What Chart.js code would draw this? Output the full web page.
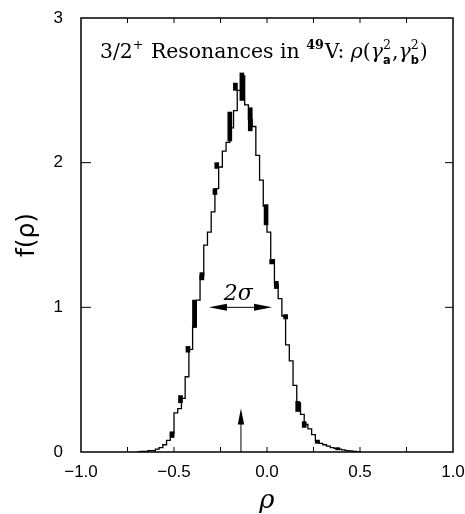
<!DOCTYPE html>
<html lang="en">
<head>
<meta charset="UTF-8">
<title>f(rho) 49V</title>
<script src="https://cdn.jsdelivr.net/npm/chart.js"></script>
<style>
  html, body { margin: 0; padding: 0; background: #fff; }
  #wrap { width: 465px; height: 514px; }
</style>
</head>
<body>
<div id="wrap"><canvas id="rhoChart"></canvas></div>
<script>
// histogram: left bin edges (rho) and heights f(rho)
const rhoEdges = [
  -0.70, -0.68, -0.66, -0.64, -0.62, -0.60, -0.58, -0.56, -0.54, -0.52,
  -0.50, -0.48, -0.46, -0.44, -0.42, -0.40, -0.38, -0.36, -0.34, -0.32,
  -0.30, -0.28, -0.26, -0.24, -0.22, -0.20, -0.18, -0.16, -0.14, -0.12,
  -0.10, -0.08, -0.06, -0.04, -0.02, 0.00, 0.02, 0.04, 0.06, 0.08,
  0.10, 0.12, 0.14, 0.16, 0.18, 0.20, 0.22, 0.24, 0.26, 0.28,
  0.30, 0.32, 0.34, 0.36, 0.38, 0.40, 0.42, 0.44, 0.46, 0.48, 0.50
];
const fValues = [
  0.000, 0.005, 0.005, 0.010, 0.010, 0.020, 0.030, 0.050, 0.080, 0.130,
  0.270, 0.300, 0.370, 0.520, 0.710, 0.870, 1.050, 1.220, 1.430, 1.520,
  1.660, 1.820, 1.970, 2.080, 2.140, 2.240, 2.360, 2.500, 2.600, 2.400,
  2.300, 2.250, 2.050, 1.880, 1.700, 1.520, 1.330, 1.160, 1.060, 0.940,
  0.740, 0.630, 0.460, 0.340, 0.260, 0.190, 0.160, 0.120, 0.080, 0.060,
  0.050, 0.040, 0.030, 0.025, 0.020, 0.015, 0.010, 0.008, 0.005, 0.003, 0.000
];

// error bars (rho position, lower and upper f)
const errRho  = [-0.51, -0.465, -0.425, -0.39, -0.35, -0.28, -0.27, -0.20, -0.17, -0.135, -0.09, -0.005, 0.025, 0.05, 0.10, 0.165, 0.20, 0.27, 0.38];
const errLow  = [0.10, 0.34, 0.69, 0.86, 1.19, 1.78, 1.96, 2.15, 2.50, 2.43, 2.22, 1.57, 1.30, 1.13, 0.92, 0.28, 0.17, 0.06, 0.015];
const errHigh = [0.14, 0.39, 0.73, 1.05, 1.24, 1.82, 2.00, 2.35, 2.55, 2.62, 2.38, 1.71, 1.33, 1.18, 0.95, 0.35, 0.21, 0.08, 0.030];

const xTicks = [-1, -0.5, 0, 0.5, 1];
const xInnerTicks = [-0.75, -0.5, -0.25, 0, 0.25, 0.5, 0.75];
const yTicks = [0, 1, 2, 3];
const yInnerTicks = [1, 2];

// annotations
const centroidRho = -0.14, centroidTop = 0.30;
const sigmaFrom = -0.312, sigmaTo = 0.027, sigmaLevel = 1.0;
const sigmaLabelRho = -0.155, sigmaLabelF = 1.05;

const histPoints = rhoEdges.map((r, i) => ({ x: r, y: fValues[i] }));
const errPoints = errRho.map((r, i) => ({ x: r, y: [errLow[i], errHigh[i]] }));

const titleParts = [
  { t: '3/2' },
  { sup: '+' },
  { t: ' Resonances in ' },
  { sup: '49', bold: true },
  { t: 'V: ' },
  { t: 'ρ', it: true },
  { t: '(' },
  { t: 'γ', it: true },
  { sup: '2', sub: 'a' },
  { t: ',' },
  { t: 'γ', it: true },
  { sup: '2', sub: 'b' },
  { t: ')' }
];

function fontFor(size, it, bold) {
  return (it ? 'italic ' : '') + (bold ? 'bold ' : '') + size + 'px "DejaVu Serif"';
}

function partWidth(ctx, p, size) {
  const small = size * 0.62;
  if (p.t !== undefined) {
    ctx.font = fontFor(size, p.it, false);
    return ctx.measureText(p.t).width;
  }
  ctx.font = fontFor(small, false, p.bold);
  let w = p.sup ? ctx.measureText(p.sup).width : 0;
  if (p.sub) {
    ctx.font = 'bold ' + (small * 0.9) + 'px "DejaVu Sans"';
    w = Math.max(w, ctx.measureText(p.sub).width);
  }
  return w + 1;
}

function arrowHead(ctx, x, y, dx, dy, len, half) {
  // tip at (x,y), pointing in direction (dx,dy)
  const bx = x - dx * len, by = y - dy * len;
  ctx.beginPath();
  ctx.moveTo(x, y);
  ctx.lineTo(bx - dy * half, by + dx * half);
  ctx.lineTo(bx + dy * half, by - dx * half);
  ctx.closePath();
  ctx.fill();
}

const framePlugin = {
  id: 'framePlugin',
  afterDraw(chart) {
    const { ctx, chartArea: a, scales } = chart;
    const xs = scales.x, ys = scales.y;
    ctx.save();
    ctx.strokeStyle = '#000';
    ctx.fillStyle = '#000';

    // frame
    ctx.lineWidth = 1.5;
    ctx.strokeRect(a.left, a.top, a.right - a.left, a.bottom - a.top);

    // inward ticks
    ctx.lineWidth = 1;
    ctx.beginPath();
    xInnerTicks.forEach(v => {
      const px = xs.getPixelForValue(v);
      ctx.moveTo(px, a.bottom); ctx.lineTo(px, a.bottom - 5);
      ctx.moveTo(px, a.top); ctx.lineTo(px, a.top + 5);
    });
    yInnerTicks.forEach(v => {
      const py = ys.getPixelForValue(v);
      ctx.moveTo(a.left, py); ctx.lineTo(a.left + 10, py);
      ctx.moveTo(a.right, py); ctx.lineTo(a.right - 8, py);
    });
    ctx.stroke();

    // centroid arrow
    const cx = xs.getPixelForValue(centroidRho);
    const cTop = ys.getPixelForValue(centroidTop);
    ctx.beginPath();
    ctx.moveTo(cx, a.bottom); ctx.lineTo(cx, cTop + 10);
    ctx.stroke();
    arrowHead(ctx, cx, cTop, 0, -1, 16, 3.2);

    // 2 sigma double arrow
    const sy = ys.getPixelForValue(sigmaLevel);
    const sx1 = xs.getPixelForValue(sigmaFrom), sx2 = xs.getPixelForValue(sigmaTo);
    ctx.beginPath();
    ctx.moveTo(sx1 + 10, sy); ctx.lineTo(sx2 - 10, sy);
    ctx.stroke();
    arrowHead(ctx, sx1, sy, -1, 0, 18, 3.5);
    arrowHead(ctx, sx2, sy, 1, 0, 18, 3.5);

    ctx.font = 'italic 22px "DejaVu Serif"';
    ctx.textAlign = 'center';
    ctx.textBaseline = 'alphabetic';
    ctx.fillText('2σ', xs.getPixelForValue(sigmaLabelRho), ys.getPixelForValue(sigmaLabelF));

    // in-plot title
    const target = 328;
    let size = 20;
    const total = titleParts.reduce((s, p) => s + partWidth(ctx, p, size), 0);
    size = size * target / total;
    const small = size * 0.62;
    let x = a.left + 19;
    const base = a.top + 40;
    ctx.textAlign = 'left';
    titleParts.forEach(p => {
      const w = partWidth(ctx, p, size);
      if (p.t !== undefined) {
        ctx.font = fontFor(size, p.it, false);
        ctx.fillText(p.t, x, base);
      } else {
        ctx.font = fontFor(small, false, p.bold);
        if (p.sup) ctx.fillText(p.sup, x, base - size * 0.45);
        if (p.sub) {
          ctx.font = 'bold ' + (small * 0.9) + 'px "DejaVu Sans"';
          ctx.fillText(p.sub, x, base + size * 0.3);
        }
      }
      x += w;
    });
    ctx.restore();
  }
};

new Chart(document.getElementById('rhoChart'), {
  type: 'line',
  data: {
    datasets: [
      {
        type: 'line',
        data: histPoints,
        stepped: true,
        borderColor: '#000',
        borderWidth: 1.3,
        pointRadius: 0,
        fill: false
      },
      {
        type: 'bar',
        data: errPoints,
        backgroundColor: '#000',
        barThickness: 4
      }
    ]
  },
  options: {
    responsive: true,
    maintainAspectRatio: false,
    animation: false,
    devicePixelRatio: 1,
    layout: { padding: { top: 18, right: 12, left: 0, bottom: 0 } },
    plugins: { legend: { display: false }, tooltip: { enabled: false } },
    scales: {
      x: {
        type: 'linear',
        min: -1,
        max: 1,
        offset: false,
        afterBuildTicks: s => { s.ticks = xTicks.map(v => ({ value: v })); },
        afterFit: s => { s.height = 62; s.paddingLeft = 0; s.paddingRight = 0; },
        grid: { display: false, drawTicks: false },
        border: { display: false },
        ticks: {
          padding: 10,
          maxRotation: 0,
          autoSkip: false,
          color: '#000',
          font: { family: '"Liberation Sans"', size: 17 },
          callback: v => (v < 0 ? '\u2212' : '') + Math.abs(v).toFixed(1)
        },
        title: {
          display: true,
          text: 'ρ',
          color: '#000',
          font: { family: '"DejaVu Serif"', size: 26, style: 'italic', lineHeight: 1.0 },
          padding: { top: 0, bottom: 0 }
        }
      },
      y: {
        type: 'linear',
        min: 0,
        max: 3,
        afterBuildTicks: s => { s.ticks = yTicks.map(v => ({ value: v })); },
        afterFit: s => { s.width = 81; s.paddingTop = 0; s.paddingBottom = 0; },
        grid: { display: false, drawTicks: false },
        border: { display: false },
        ticks: {
          padding: 18,
          color: '#000',
          font: { family: '"Liberation Sans"', size: 17 },
          callback: v => String(v)
        },
        title: {
          display: true,
          text: 'f(ρ)',
          color: '#000',
          font: { family: '"DejaVu Sans"', size: 25 },
          padding: { top: 12, bottom: 0 }
        }
      }
    }
  },
  plugins: [framePlugin]
});
</script>
</body>
</html>
